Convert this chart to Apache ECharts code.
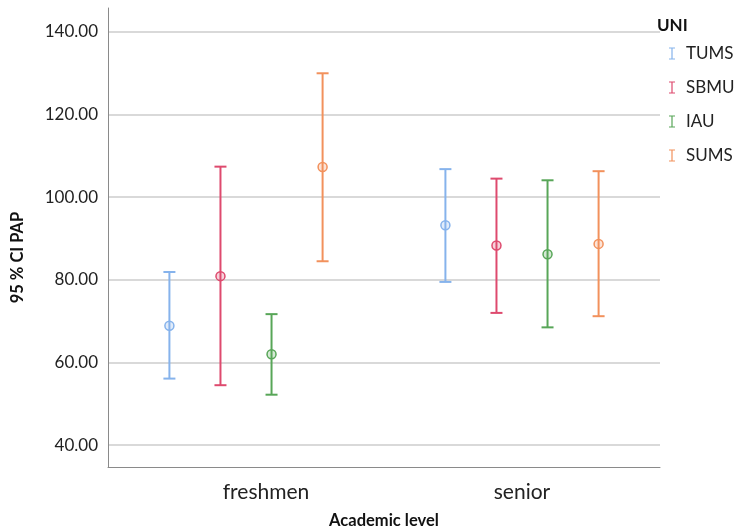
<!DOCTYPE html>
<html>
<head>
<meta charset="utf-8">
<script src="https://cdn.jsdelivr.net/npm/echarts@6/dist/echarts.min.js"></script>
<style>
  html, body { margin: 0; padding: 0; background: #fff; }
  #chart { width: 742px; height: 531px; }
</style>
</head>
<body>
<div id="chart"></div>
<script>
const categories = ['freshmen', 'senior']
const groups = ['TUMS', 'SBMU', 'IAU', 'SUMS']
const colors = ['#86b3ec', '#de4a6e', '#58a658', '#f2915c']
const yTicks = [40, 60, 80, 100, 120, 140]

// mean and 95% CI bounds, one entry per category
const tumsMean = [68.9, 93.2]
const tumsLow = [56.1, 79.5]
const tumsHigh = [81.9, 106.8]
const sbmuMean = [80.9, 88.3]
const sbmuLow = [54.5, 72.0]
const sbmuHigh = [107.4, 104.5]
const iauMean = [62.0, 86.2]
const iauLow = [52.2, 68.5]
const iauHigh = [71.7, 104.1]
const sumsMean = [107.3, 88.7]
const sumsLow = [84.5, 71.2]
const sumsHigh = [130.0, 106.3]

const means = [tumsMean, sbmuMean, iauMean, sumsMean]
const lows = [tumsLow, sbmuLow, iauLow, sumsLow]
const highs = [tumsHigh, sbmuHigh, iauHigh, sumsHigh]

const font = 'Lato, "Open Sans", sans-serif'

function errorBar(idx) {
  return function(params, api) {
    const band = api.size([1, 0])[0]
    const dx = (idx - 1.5) * band * 0.185
    const cat = api.value(0)
    const lo = api.coord([cat, api.value(1)])
    const hi = api.coord([cat, api.value(2)])
    const mid = api.coord([cat, api.value(3)])
    const x = lo[0] + dx
    const cap = 6
    const color = api.visual('color')
    const line = { stroke: color, lineWidth: 2 }
    return {
      type: 'group',
      children: [
        { type: 'line', shape: { x1: x, y1: hi[1], x2: x, y2: lo[1] }, style: line },
        { type: 'line', shape: { x1: x - cap, y1: hi[1], x2: x + cap, y2: hi[1] }, style: line },
        { type: 'line', shape: { x1: x - cap, y1: lo[1], x2: x + cap, y2: lo[1] }, style: line },
        {
          type: 'circle',
          shape: { cx: x, cy: mid[1], r: 4.5 },
          style: { stroke: color, lineWidth: 1.5, fill: color, fillOpacity: 0.25 }
        }
      ]
    }
  }
}

const series = groups.map((name, i) => ({
  name,
  type: 'custom',
  renderItem: errorBar(i),
  itemStyle: { color: colors[i] },
  encode: { x: 0, y: [1, 2, 3] },
  data: categories.map((c, j) => [j, lows[i][j], highs[i][j], means[i][j]])
}))

const chart = echarts.init(document.getElementById('chart'))
chart.setOption({
  animation: false,
  title: {
    text: 'UNI',
    left: 652,
    top: 12,
    textStyle: { fontFamily: font, fontSize: 17, fontWeight: 'bold', color: '#111' }
  },
  legend: {
    orient: 'vertical',
    left: 664,
    top: 40,
    itemWidth: 6,
    itemHeight: 13,
    itemGap: 17,
    textStyle: { fontFamily: font, fontSize: 17, color: '#222', padding: [0, 0, 0, 6] },
    data: groups.map((g, i) => ({
      name: g,
      icon: 'path://M0,0h6v1h-2.4v10h2.4v1h-6v-1h2.4v-10h-2.4z',
      itemStyle: { color: colors[i] }
    }))
  },
  grid: { left: 108, right: 82, top: 8, bottom: 64, outerBoundsMode: 'none', containLabel: false },
  xAxis: {
    type: 'category',
    data: categories,
    boundaryGap: true,
    name: 'Academic level',
    nameLocation: 'middle',
    nameGap: 45,
    nameTextStyle: { fontFamily: font, fontSize: 16.5, fontWeight: 'bold', color: '#111' },
    axisLine: { lineStyle: { color: '#8a8a8a', width: 1 } },
    axisTick: { show: false },
    axisLabel: {
      fontFamily: font,
      fontSize: 21,
      color: '#222',
      margin: 15,
      formatter: v => (v === 'freshmen' ? '{f|' + v + '}' : v),
      rich: { f: { fontFamily: font, fontSize: 21, color: '#222', padding: [0, 0, 0, 40] } }
    },
    splitLine: { show: false }
  },
  yAxis: {
    type: 'value',
    min: 34.7,
    max: 145.8,
    name: '95 % CI PAP',
    nameLocation: 'middle',
    nameRotate: 90,
    nameGap: 82,
    nameTextStyle: {
      fontFamily: font, fontSize: 16.5, fontWeight: 'bold', color: '#111',
      padding: [0, 40, 0, 0]
    },
    axisLine: { show: true, lineStyle: { color: '#8a8a8a', width: 1 } },
    axisTick: { show: false, customValues: yTicks },
    axisLabel: {
      customValues: yTicks,
      fontFamily: font,
      fontSize: 17,
      color: '#222',
      margin: 10,
      formatter: v => v.toFixed(2)
    },
    splitLine: { show: true, lineStyle: { color: '#d9d9d9', width: 2 } }
  },
  series
})
</script>
</body>
</html>
